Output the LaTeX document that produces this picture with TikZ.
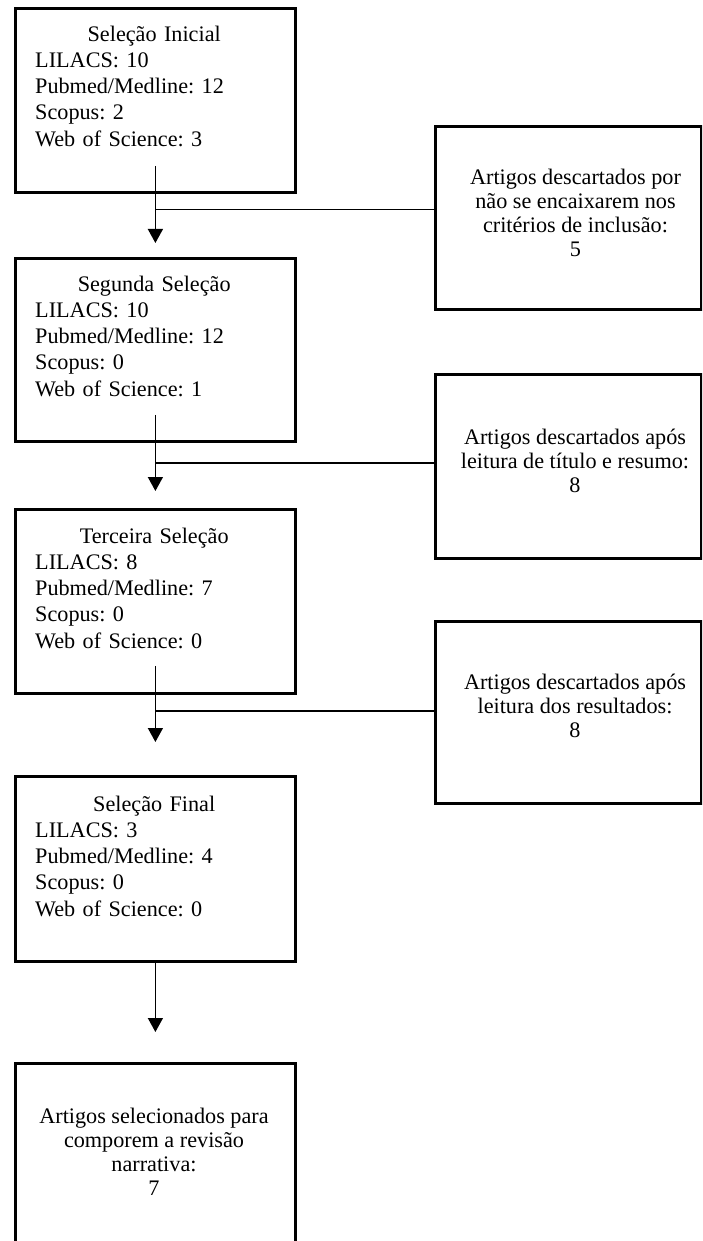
\documentclass[tikz,border=0pt]{standalone}
\usepackage{fontspec}
\setmainfont{Liberation Serif}
\usetikzlibrary{arrows.meta}
\frenchspacing
\begin{document}
\begin{tikzpicture}[x=1pt,y=-1pt,
  box/.style={draw, line width=2.8pt, anchor=north west, inner sep=0pt, minimum width=280pt},
  rbox/.style={draw, line width=2.8pt, anchor=north west, inner sep=0pt, minimum width=266pt},
  ltext/.style={anchor=north west, inner sep=0pt, text width=238pt, align=left,
    font=\fontsize{22.2}{26.25}\selectfont},
  ctext/.style={anchor=north, inner sep=0pt, align=center,
    font=\fontsize{22.2}{24}\selectfont},
  conn/.style={line width=1.4pt},
  arr/.style={line width=1.4pt, -{Triangle[width=15pt,length=14pt]}}]
\useasboundingbox (0,0) rectangle (702,1241);
\clip (0,0) rectangle (702,1241);

% left boxes
\node[box, minimum height=184pt] (b1) at (14,7) {};
\node[box, minimum height=183pt] (b2) at (14,257) {};
\node[box, minimum height=184pt] (b3) at (14,508) {};
\node[box, minimum height=185pt] (b4) at (14,775) {};
\node[box, minimum height=260pt] (b5) at (14,1062) {};

% right boxes
\node[rbox, minimum height=183pt] (r1) at (434,125) {};
\node[rbox, minimum height=184pt] (r2) at (434,373) {};
\node[rbox, minimum height=182pt] (r3) at (434,620) {};

% texts of left boxes
\node[ltext] (t1) at (35,25.5) {\makebox[\linewidth]{Seleção Inicial}\\LILACS: 10\\Pubmed/Medline: 12\\Scopus: 2\\Web of Science: 3};
\node[ltext] (t2) at (35,275.5) {\makebox[\linewidth]{Segunda Seleção}\\LILACS: 10\\Pubmed/Medline: 12\\Scopus: 0\\Web of Science: 1};
\node[ltext] (t3) at (35,527.5) {\makebox[\linewidth]{Terceira Seleção}\\LILACS: 8\\Pubmed/Medline: 7\\Scopus: 0\\Web of Science: 0};
\node[ltext] (t4) at (35,795.5) {\makebox[\linewidth]{Seleção Final}\\LILACS: 3\\Pubmed/Medline: 4\\Scopus: 0\\Web of Science: 0};
\node[ctext] (t5) at (154,1108) {Artigos selecionados para\\comporem a revisão\\narrativa:\\7};

% texts of right boxes
\node[ctext] (s1) at (575.5,168.5) {Artigos descartados por\\não se encaixarem nos\\critérios de inclusão:\\5};
\node[ctext] (s2) at (575,428.5) {Artigos descartados após\\leitura de título e resumo:\\8};
\node[ctext] (s3) at (575,673.5) {Artigos descartados após\\leitura dos resultados:\\8};

% connectors
\coordinate (j1) at ([yshift=-16pt]b1.south);
\coordinate (j2) at ([yshift=-20pt]b2.south);
\coordinate (j3) at ([yshift=-16pt]b3.south);

\draw[arr] ([yshift=28pt]b1.south) -- ([yshift=14pt]b2.north);
\draw[conn] (j1) -- (j1 -| r1.west);
\draw[arr] ([yshift=28pt]b2.south) -- ([yshift=17pt]b3.north);
\draw[conn] (j2) -- (j2 -| r2.west);
\draw[arr] ([yshift=29pt]b3.south) -- ([yshift=33pt]b4.north);
\draw[conn] (j3) -- (j3 -| r3.west);
\draw[arr] (b4.south) -- ([yshift=30pt]b5.north);
\end{tikzpicture}
\end{document}
